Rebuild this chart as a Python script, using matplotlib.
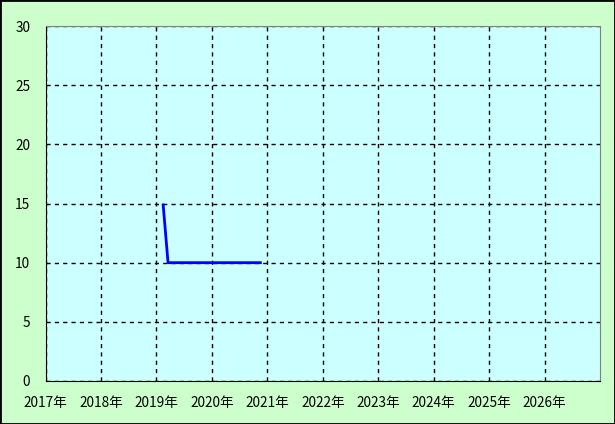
import matplotlib
matplotlib.use("Agg")
from matplotlib import pyplot as plt
from matplotlib.patches import Rectangle

plt.rcParams['font.family'] = ['Noto Sans CJK JP', 'DejaVu Sans']

# line data (year as decimal)
x_vals = [2019.12, 2019.21, 2020.9]
y_vals = [15, 10, 10]
years = list(range(2017, 2027))
year_labels = [str(y) + "年" for y in years]
y_ticks = [0, 5, 10, 15, 20, 25, 30]

fig = plt.figure(figsize=(6.15, 4.24), dpi=100, facecolor="#ccffcc")
ax = fig.add_axes([45.5/615, 43/424, 554.5/615, 355/424])
ax.set_facecolor("#ccffff")

ax.plot(x_vals, y_vals, color="#0000ff", linewidth=2, solid_capstyle="butt")

ax.set_xlim(2017, 2027)
ax.set_ylim(0, 30)
ax.set_xticks(years)
ax.set_xticklabels(year_labels)
ax.set_yticks(y_ticks)
ax.tick_params(length=0, labelsize=9.8, colors="black")
ax.tick_params(axis="x", pad=10.5)
ax.tick_params(axis="y", pad=11)
ax.grid(True, color="black", linestyle=(0, (3, 3)), linewidth=1)

for s in ["left", "bottom"]:
    ax.spines[s].set_color("black")
for s in ["top", "right"]:
    ax.spines[s].set_color("#808080")

fig.patches.append(Rectangle((0, 0), 1, 1, transform=fig.transFigure,
                             fill=False, edgecolor="black", linewidth=2))

fig.savefig("out.png", dpi=100, facecolor=fig.get_facecolor())
